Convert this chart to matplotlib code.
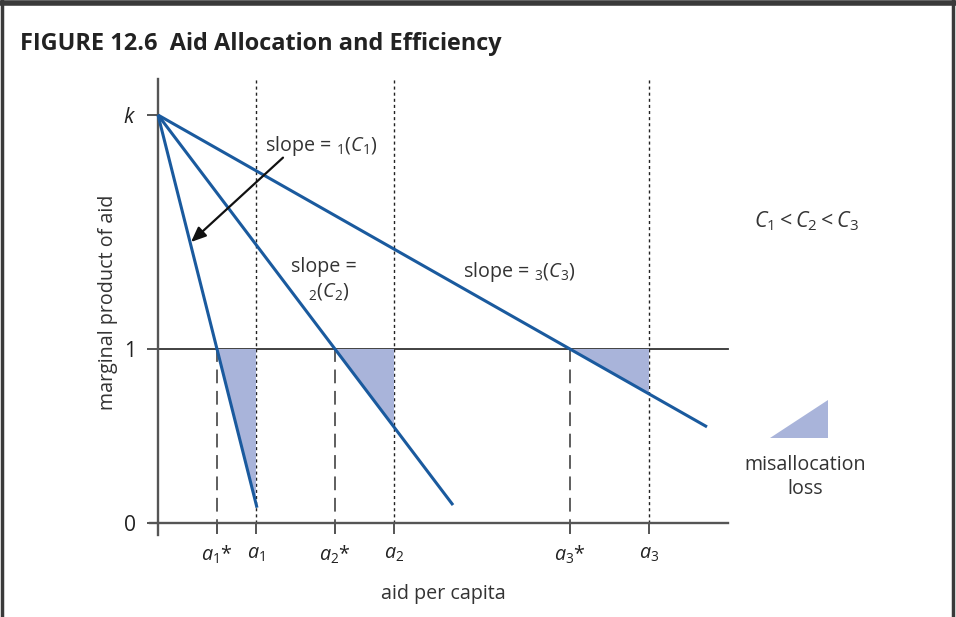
import matplotlib
matplotlib.use("Agg")
import matplotlib.pyplot as plt
from matplotlib.lines import Line2D

plt.rcParams["font.family"] = ["Open Sans", "DejaVu Sans"]
plt.rcParams["mathtext.fontset"] = "custom"
plt.rcParams["mathtext.rm"] = "Open Sans"
plt.rcParams["mathtext.it"] = "Open Sans:italic"
plt.rcParams["mathtext.bf"] = "Open Sans:bold"

# Model values
k = 2.345                       # marginal product at zero aid
opt_level = 1.0                 # efficient marginal product
a_star = [0.59, 1.77, 4.12]     # efficient aid levels a_i*
a_actual = [0.98, 2.36, 4.91]   # actual aid levels a_i
line_end = [0.99, 2.95, 5.49]   # where each schedule is drawn to
star_labels = [r"$a_1$*", r"$a_2$*", r"$a_3$*"]
actual_labels = [r"$a_1$", r"$a_2$", r"$a_3$"]

blue = "#1a5a9e"
shade = "#a9b4da"
axis_grey = "#555555"
text_col = "#333333"
fs = 14.2

fig = plt.figure(figsize=(9.56, 6.17), dpi=100)
ax = fig.add_axes([0, 0, 1, 1])
ax.set_xlim(-1.58, 7.98)
ax.set_ylim(-0.540, 3.006)
ax.set_facecolor("white")

# axes
for s in ["top", "right"]:
    ax.spines[s].set_visible(False)
ax.spines["left"].set_position(("data", 0))
ax.spines["bottom"].set_position(("data", 0))
ax.spines["left"].set_bounds(-0.07, 2.55)
ax.spines["bottom"].set_bounds(-0.08, 5.70)
for s in ["left", "bottom"]:
    ax.spines[s].set_color(axis_grey)
    ax.spines[s].set_linewidth(1.7)

xt = [0] + sorted(a_star + a_actual)
xl = [""] + [lab for _, lab in sorted(zip(a_star + a_actual, star_labels + actual_labels))]
ax.set_xticks(xt)
ax.set_xticklabels(xl, fontsize=fs, color="#222222")
ax.set_yticks([0, opt_level, k])
ax.set_yticklabels(["0", "1", r"$k$"], fontsize=fs + 1, color="#222222")
ax.tick_params(axis="x", direction="out", length=8, width=1.4, color=axis_grey, pad=7)
ax.tick_params(axis="y", direction="out", length=8, width=1.4, color=axis_grey, pad=8)

# efficient level line
ax.plot([0, 5.70], [opt_level, opt_level], color="#333333", lw=1.3, zorder=2)

# actual allocations (dotted) and efficient allocations (dashed)
for xa in a_actual:
    ax.plot([xa, xa], [0, 2.55], color="#222222", lw=1.0, ls=(0, (2.2, 2.2)), zorder=1)
for xs in a_star:
    ax.plot([xs, xs], [-0.06, opt_level], color="#333333", lw=1.1, ls=(0, (9, 5)), zorder=1)

# schedules and misallocation areas
for xs, xa, xe in zip(a_star, a_actual, line_end):
    slope = (k - opt_level) / xs
    ax.plot([0, xe], [k, k - slope * xe], color=blue, lw=2.2, zorder=3,
            solid_capstyle="butt")
    ax.fill([xs, xa, xa], [opt_level, opt_level, k - slope * xa],
            color=shade, lw=0, zorder=2)

# labels
ax.text(1.07, 2.165, r"slope = $_1$($C_1$)", fontsize=fs, color=text_col, va="center")
ax.text(1.33, 1.470, "slope =", fontsize=fs, color=text_col, va="center")
ax.text(1.50, 1.330, r"$_2$($C_2$)", fontsize=fs, color=text_col, va="center")
ax.text(3.05, 1.445, r"slope = $_3$($C_3$)", fontsize=fs, color=text_col, va="center")
ax.text(5.96, 1.735, r"$C_1{<}C_2{<}C_3$", fontsize=15.4, color=text_col, va="center")

ax.annotate("", xy=(0.33, 1.615), xytext=(1.25, 2.10),
            arrowprops=dict(arrowstyle="-|>,head_length=0.9,head_width=0.38",
                            color="#111111", lw=1.6, shrinkA=0, shrinkB=0), zorder=4)

# key for shaded areas
ax.fill([6.12, 6.70, 6.70], [0.489, 0.489, 0.707], color=shade, lw=0)
ax.text(6.47, 0.335, "misallocation", fontsize=fs, color=text_col, ha="center", va="center")
ax.text(6.47, 0.195, "loss", fontsize=fs, color=text_col, ha="center", va="center")

ax.text(2.85, -0.405, "aid per capita", fontsize=fs, color=text_col, ha="center", va="center")
ax.text(-0.50, 1.27, "marginal product of aid", fontsize=fs, color=text_col,
        ha="center", va="center", rotation=90)

fig.text(0.021, 0.928, "FIGURE 12.6  Aid Allocation and Efficiency",
         fontsize=16.9, fontweight="bold", color="#222222", va="center")

# frame around the figure
fig.add_artist(Line2D([0, 1], [0.995, 0.995], transform=fig.transFigure, color="#3a3a3a", lw=4))
fig.add_artist(Line2D([0.002, 0.002], [0, 1], transform=fig.transFigure, color="#3a3a3a", lw=2.5))
fig.add_artist(Line2D([0.997, 0.997], [0, 1], transform=fig.transFigure, color="#3a3a3a", lw=2.5))

fig.savefig("out.png", dpi=100, facecolor="white")
